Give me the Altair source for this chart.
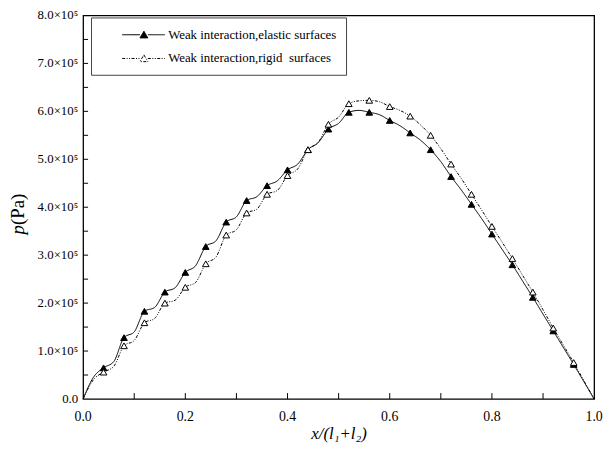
import altair as alt
import pandas as pd

# ---- data (pressure in Pa) ----
series_names = ["Weak interaction,elastic surfaces", "Weak interaction,rigid\u00a0 surfaces"]

x_marker = [0.04, 0.08, 0.12, 0.16, 0.20, 0.24, 0.28, 0.32, 0.36, 0.40, 0.44, 0.48,
            0.52, 0.56, 0.60, 0.64, 0.68, 0.72, 0.76, 0.80, 0.84, 0.88, 0.92, 0.96]
p_elastic_marker = [0.65, 1.28, 1.83, 2.23, 2.64, 3.18, 3.69, 4.14, 4.45, 4.78, 5.20, 5.63,
                    5.98, 5.98, 5.81, 5.55, 5.20, 4.64, 4.06, 3.44, 2.80, 2.12, 1.42, 0.72]
p_rigid_marker = [0.56, 1.11, 1.59, 2.00, 2.33, 2.82, 3.42, 3.88, 4.27, 4.66, 5.20, 5.73,
                  6.16, 6.23, 6.10, 5.90, 5.50, 4.90, 4.27, 3.60, 2.93, 2.23, 1.48, 0.76]

# curve values read between the markers (and at the ends)
x_between = [0.0, 0.02, 0.06, 0.10, 0.14, 0.18, 0.22, 0.26, 0.30, 0.34, 0.38, 0.42, 0.46,
             0.50, 0.54, 0.58, 0.62, 0.66, 0.70, 0.74, 0.78, 0.82, 0.86, 0.90, 0.94, 0.98, 1.0]
p_elastic_between = [0.0, 0.45, 0.78, 1.40, 1.91, 2.32, 2.78, 3.30, 3.80, 4.22, 4.55, 4.90, 5.35,
                     5.75, 6.02, 5.93, 5.70, 5.40, 4.95, 4.36, 3.76, 3.12, 2.46, 1.77, 1.07, 0.36, 0.0]
p_rigid_between = [0.0, 0.40, 0.68, 1.22, 1.68, 2.06, 2.43, 2.96, 3.53, 3.96, 4.35, 4.80, 5.35,
                   5.88, 6.22, 6.20, 6.02, 5.72, 5.22, 4.60, 3.94, 3.27, 2.58, 1.86, 1.12, 0.38, 0.0]

y_tick_values = [i * 0.5e5 for i in range(1, 16)]
x_tick_values = [0.1, 0.2, 0.3, 0.4, 0.5, 0.6, 0.7, 0.8, 0.9]

y_label_values = [0, 1e5, 2e5, 3e5, 4e5, 5e5, 6e5, 7e5, 8e5]
y_label_texts = ["0.0", "1.0\u00d710\u2075", "2.0\u00d710\u2075", "3.0\u00d710\u2075",
                 "4.0\u00d710\u2075", "5.0\u00d710\u2075", "6.0\u00d710\u2075",
                 "7.0\u00d710\u2075", "8.0\u00d710\u2075"]
x_label_values = [0.0, 0.2, 0.4, 0.6, 0.8, 1.0]
x_label_texts = ["0.0", "0.2", "0.4", "0.6", "0.8", "1.0"]

# ---- tables ----
rows_line = []
for name, pm, pb in [
    (series_names[0], p_elastic_marker, p_elastic_between),
    (series_names[1], p_rigid_marker, p_rigid_between),
]:
    for xv, pv in zip(x_marker, pm):
        rows_line.append({"x": xv, "p": pv * 1e5, "series": name})
    for xv, pv in zip(x_between, pb):
        rows_line.append({"x": xv, "p": pv * 1e5, "series": name})
line_df = pd.DataFrame(rows_line).sort_values(["series", "x"])

rows_pts = []
for name, pm in [(series_names[0], p_elastic_marker), (series_names[1], p_rigid_marker)]:
    for xv, pv in zip(x_marker, pm):
        rows_pts.append({"x": xv, "p": pv * 1e5, "series": name})
pts_df = pd.DataFrame(rows_pts)

FONT = "Liberation Serif"
W, H = 517, 388

xscale = alt.Scale(domain=[0, 1], nice=False, zero=False)
yscale = alt.Scale(domain=[0, 8e5], nice=False)

x_axis = alt.Axis(values=x_label_values, grid=False, domain=False, ticks=False, labels=False,
                  title="x/(l\u2081+l\u2082)", titleFontStyle="italic", titlePadding=27,
                  titleFont=FONT, titleFontSize=17, titleFontWeight="normal", titleColor="black")
y_axis = alt.Axis(values=y_label_values, grid=False, domain=False, ticks=False, labels=False,
                  title=None)

dash_scale = alt.Scale(domain=series_names, range=[[1, 0], [3, 1.5, 1, 1.5, 1, 1.5]])
fill_scale = alt.Scale(domain=series_names, range=["black", "white"])

legend = alt.Legend(
    title=None, orient="none", legendX=8, legendY=2,
    symbolType="M-1,0L1.25,0M2.25,0L4.4,0M1.75,-0.45L2.25,0.4L1.25,0.4Z",
    symbolSize=256, symbolStrokeColor="black", symbolStrokeWidth=1,
    symbolOffset=22, labelOffset=30, rowPadding=8, labelLimit=400,
    labelFont=FONT, labelFontSize=13, labelColor="black",
    padding=9, strokeColor="#444", fillColor="white",
)

lines = alt.Chart(line_df).mark_line(interpolate="monotone", color="black", strokeWidth=1).encode(
    x=alt.X("x:Q", scale=xscale, axis=x_axis),
    y=alt.Y("p:Q", scale=yscale, axis=y_axis),
    detail="series:N",
    strokeDash=alt.StrokeDash("series:N", scale=dash_scale, legend=legend),
)

points = alt.Chart(pts_df).mark_point(shape="triangle-up", size=45, stroke="black",
                                       strokeWidth=1, opacity=1, filled=False).encode(
    x=alt.X("x:Q", scale=xscale, axis=x_axis),
    y=alt.Y("p:Q", scale=yscale, axis=y_axis),
    fill=alt.Fill("series:N", scale=fill_scale, legend=legend),
)

ytick_df = pd.DataFrame({"v": y_tick_values})
yticks = alt.Chart(ytick_df).mark_rule(color="black", strokeWidth=1).encode(
    y=alt.Y("v:Q", scale=yscale, axis=y_axis),
    x=alt.value(0), x2=alt.value(5),
)
xtick_df = pd.DataFrame({"v": x_tick_values})
xticks = alt.Chart(xtick_df).mark_rule(color="black", strokeWidth=1).encode(
    x=alt.X("v:Q", scale=xscale, axis=x_axis),
    y=alt.value(H), y2=alt.value(H - 6),
)

ylab_df = pd.DataFrame({"v": y_label_values, "t": y_label_texts})
ylabels = alt.Chart(ylab_df).mark_text(font=FONT, fontSize=13, align="right", baseline="middle",
                                       color="black").encode(
    y=alt.Y("v:Q", scale=yscale, axis=y_axis),
    x=alt.value(-5), text="t:N",
)
xlab_df = pd.DataFrame({"v": x_label_values, "t": x_label_texts})
xlabels = alt.Chart(xlab_df).mark_text(font=FONT, fontSize=14, align="center", baseline="top",
                                       color="black").encode(
    x=alt.X("v:Q", scale=xscale, axis=x_axis),
    y=alt.value(H + 11), text="t:N",
)

title_df = pd.DataFrame({"t": ["p"]})
ytitle_p = alt.Chart(title_df).mark_text(font=FONT, fontSize=19, fontStyle="italic", angle=270,
                                         align="right", baseline="middle", color="black").encode(
    x=alt.value(-66), y=alt.value(212), text=alt.value("p"))
ytitle_pa = alt.Chart(title_df).mark_text(font=FONT, fontSize=19, angle=270,
                                          align="left", baseline="middle", color="black").encode(
    x=alt.value(-66), y=alt.value(212), text=alt.value("(Pa)"))

chart = alt.layer(lines, points, yticks, xticks, ylabels, xlabels, ytitle_p, ytitle_pa).resolve_scale(
    strokeDash="shared", fill="shared"
).properties(
    width=W, height=H,
    autosize=alt.AutoSizeParams(type="none"),
    padding={"left": 76, "top": 5, "right": 12, "bottom": 45},
).configure(
    font=FONT, background="white",
    style={"guide-label": {"font": FONT}, "guide-title": {"font": FONT}},
).configure_view(
    stroke="black", strokeWidth=1.3
).configure_legend(
    labelFont=FONT
)

chart.save("out.html", embed_options={"renderer": "svg", "actions": False})
